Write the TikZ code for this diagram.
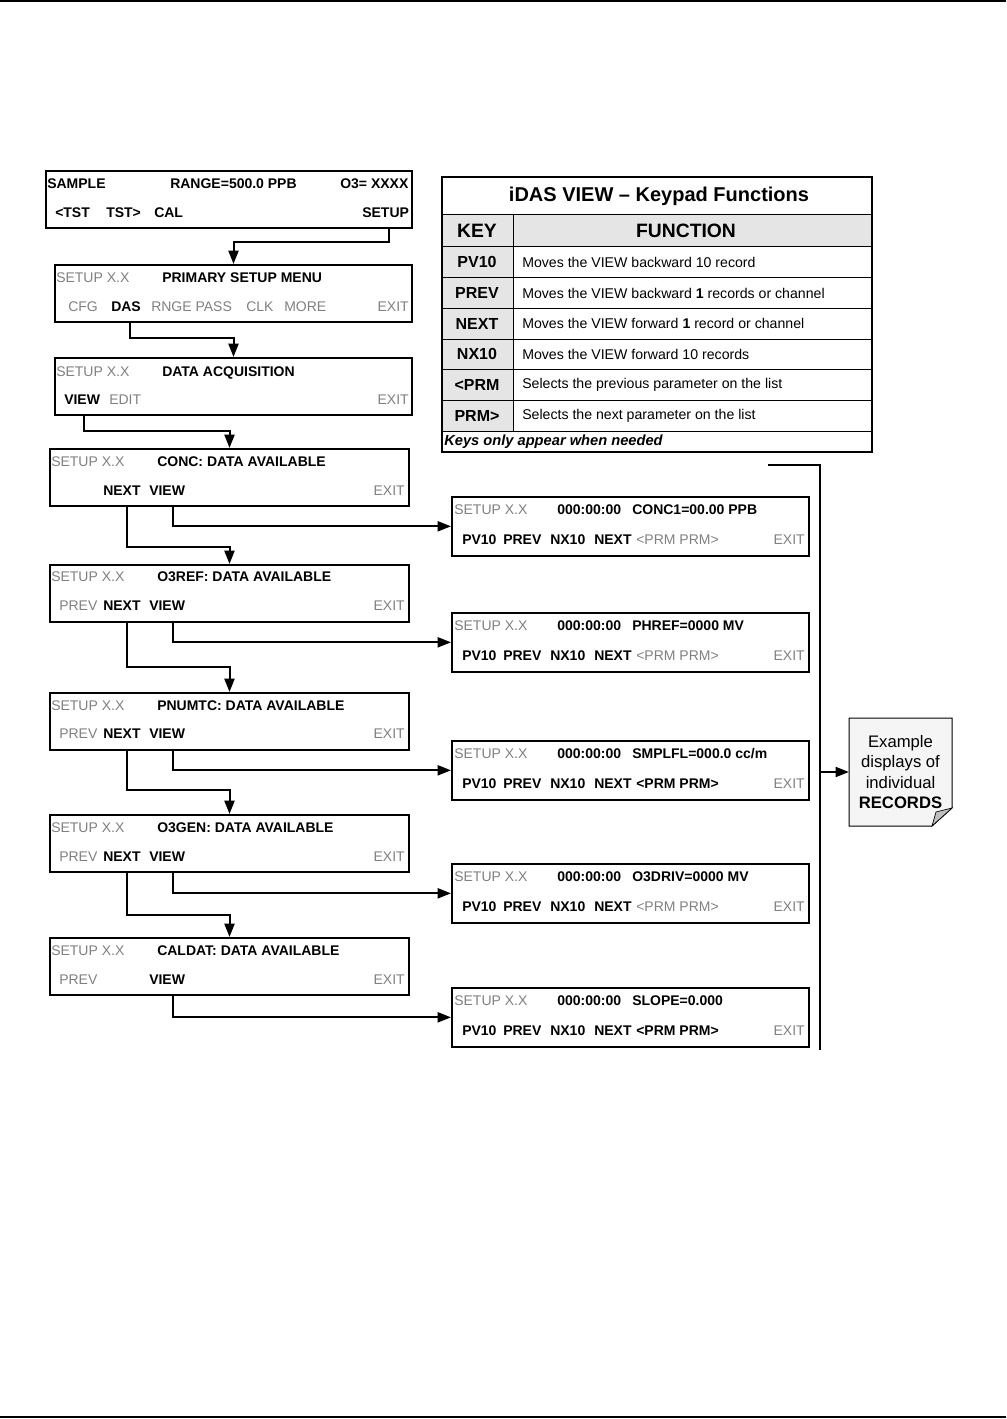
\documentclass[tikz,border=0pt]{standalone}
\usepackage{fontspec}
\setmainfont{Liberation Sans}
\usetikzlibrary{arrows.meta,calc}

\begin{document}
\begin{tikzpicture}[x=0.75pt,y=-0.75pt]
  \tikzset{
    disp/.style={draw,line width=1.5pt,anchor=north west,inner sep=0pt,minimum height=43pt},
    bk/.style={anchor=base west,inner sep=0pt,font=\bfseries\fontsize{10.5}{12}\selectfont},
    dim/.style={anchor=base west,inner sep=0pt,text=black!50,font=\fontsize{10.5}{12}\selectfont},
    conn/.style={line width=1.5pt,-{Triangle[length=10pt,width=7.5pt]}},
    link/.style={line width=1.5pt},
    cell/.style={font=\fontsize{10.6}{12}\selectfont,anchor=west,inner sep=0pt},
    head/.style={font=\bfseries\fontsize{14.5}{17}\selectfont}
  }
  \useasboundingbox (0,0) rectangle (1006,1419);
  % page rules
  \draw[line width=1.5pt] (0,1) -- (1006,1);
  \draw[line width=1.5pt] (0,1417) -- (1006,1417);

  % main display
  \node[disp,minimum width=274.5pt] (main) at (45,170) {};
  \node[bk] (main-sample) at (47,189) {SAMPLE};
  \node[bk] (main-range) at (170,189) {RANGE=500.0 PPB};
  \node[bk] (main-o3) at (340,189) {O3= XXXX};
  \node[bk] (main-tstl) at (55,218) {<TST};
  \node[bk] (main-tstr) at (106,218) {TST>};
  \node[bk] (main-cal) at (154,218) {CAL};
  \node[bk] (main-setup) at (362,218) {SETUP};

  % primary setup menu
  \node[disp,minimum width=267.75pt] (setup) at (54,264) {};
  \node[dim] (setup-id) at (56,283) {SETUP X.X};
  \node[bk] (setup-title) at (162,283) {PRIMARY SETUP MENU};
  \node[dim] (setup-cfg) at (68,311) {CFG};
  \node[bk] (setup-das) at (111,311) {DAS};
  \node[dim] (setup-rnge) at (151,311) {RNGE PASS};
  \node[dim] (setup-clk) at (246,311) {CLK};
  \node[dim] (setup-more) at (284,311) {MORE};
  \node[dim,anchor=base east] (setup-exit) at (409,311) {EXIT};

  % data acquisition
  \node[disp,minimum width=267.75pt] (das) at (54,357) {};
  \node[dim] (das-id) at (56,376) {SETUP X.X};
  \node[bk] (das-title) at (162,376) {DATA ACQUISITION};
  \node[bk] (das-view) at (64,404) {VIEW};
  \node[dim] (das-edit) at (109,404) {EDIT};
  \node[dim,anchor=base east] (das-exit) at (409,404) {EXIT};

  % channels
  \node[disp,minimum width=269.25pt] (conc) at (49,448) {};
  \node[dim] (conc-id) at (51,466) {SETUP X.X};
  \node[bk] (conc-title) at (157,466) {CONC: DATA AVAILABLE};
  \node[bk] (conc-next) at (103,495) {NEXT};
  \node[bk] (conc-view) at (149,495) {VIEW};
  \node[dim,anchor=base east] (conc-exit) at (405,495) {EXIT};

  \node[disp,minimum width=269.25pt] (o3ref) at (49,564) {};
  \node[dim] (o3ref-id) at (51,581) {SETUP X.X};
  \node[bk] (o3ref-title) at (157,581) {O3REF: DATA AVAILABLE};
  \node[dim] (o3ref-prev) at (59,610) {PREV};
  \node[bk] (o3ref-next) at (103,610) {NEXT};
  \node[bk] (o3ref-view) at (149,610) {VIEW};
  \node[dim,anchor=base east] (o3ref-exit) at (405,610) {EXIT};

  \node[disp,minimum width=269.25pt] (pnumtc) at (49,692) {};
  \node[dim] (pnumtc-id) at (51,710) {SETUP X.X};
  \node[bk] (pnumtc-title) at (157,710) {PNUMTC: DATA AVAILABLE};
  \node[dim] (pnumtc-prev) at (59,738) {PREV};
  \node[bk] (pnumtc-next) at (103,738) {NEXT};
  \node[bk] (pnumtc-view) at (149,738) {VIEW};
  \node[dim,anchor=base east] (pnumtc-exit) at (405,738) {EXIT};

  \node[disp,minimum width=269.25pt] (o3gen) at (49,814) {};
  \node[dim] (o3gen-id) at (51,832) {SETUP X.X};
  \node[bk] (o3gen-title) at (157,832) {O3GEN: DATA AVAILABLE};
  \node[dim] (o3gen-prev) at (59,861) {PREV};
  \node[bk] (o3gen-next) at (103,861) {NEXT};
  \node[bk] (o3gen-view) at (149,861) {VIEW};
  \node[dim,anchor=base east] (o3gen-exit) at (405,861) {EXIT};

  \node[disp,minimum width=269.25pt] (caldat) at (49,937) {};
  \node[dim] (caldat-id) at (51,955) {SETUP X.X};
  \node[bk] (caldat-title) at (157,955) {CALDAT: DATA AVAILABLE};
  \node[dim] (caldat-prev) at (59,984) {PREV};
  \node[bk] (caldat-view) at (149,984) {VIEW};
  \node[dim,anchor=base east] (caldat-exit) at (405,984) {EXIT};

  % record displays
  \foreach \n/\ytop/\val/\prm in {rconc/496/{CONC1=00.00 PPB}/dim, rphref/612/{PHREF=0000 MV}/dim,
      rsmplfl/740/{SMPLFL=000.0 cc/m}/bk, ro3driv/863/{O3DRIV=0000 MV}/dim, rslope/987/{SLOPE=0.000}/bk} {
    \node[disp,minimum width=267.75pt,minimum height=44pt] (\n) at (451,\ytop) {};
    \node[dim] (\n-id) at (454,{\ytop+18.5}) {SETUP X.X};
    \node[bk] (\n-time) at (557,{\ytop+18.5}) {000:00:00};
    \node[bk] (\n-val) at (632,{\ytop+18.5}) {\val};
    \node[bk] (\n-pv10) at (462,{\ytop+48}) {PV10};
    \node[bk] (\n-prev) at (503,{\ytop+48}) {PREV};
    \node[bk] (\n-nx10) at (550,{\ytop+48}) {NX10};
    \node[bk] (\n-next) at (594,{\ytop+48}) {NEXT};
    \node[\prm] (\n-prm) at (636,{\ytop+48}) {<PRM PRM>};
    \node[dim,anchor=base east] (\n-exit) at (805,{\ytop+48}) {EXIT};
  }

  % menu connectors
  \draw[conn] ($(main-setup.south |- main.south)+(3,0)$) -- ++(0,13) -| (setup.north);
  \draw[conn] ($(setup-das.south |- setup.south)+(4,0)$) -- ++(0,15) -| (das.north);
  \draw[conn] ($(das-view.south |- das.south)+(2,0)$) -- ++(0,15) -| (conc.north);
  \draw[conn] ($(conc-next.south |- conc.south)+(5,0)$) -- ++(0,40) -| (o3ref.north);
  \draw[conn] ($(o3ref-next.south |- o3ref.south)+(5,0)$) -- ++(0,44) -| (pnumtc.north);
  \draw[conn] ($(pnumtc-next.south |- pnumtc.south)+(5,0)$) -- ++(0,39) -| (o3gen.north);
  \draw[conn] ($(o3gen-next.south |- o3gen.south)+(5,0)$) -- ++(0,42) -| (caldat.north);
  \draw[conn] ($(conc-view.south |- conc.south)+(6,0)$) |- (rconc.west);
  \draw[conn] ($(o3ref-view.south |- o3ref.south)+(6,0)$) |- (rphref.west);
  \draw[conn] ($(pnumtc-view.south |- pnumtc.south)+(6,0)$) |- (rsmplfl.west);
  \draw[conn] ($(o3gen-view.south |- o3gen.south)+(6,0)$) |- (ro3driv.west);
  \draw[conn] ($(caldat-view.south |- caldat.south)+(6,0)$) |- (rslope.west);

  % keypad table
  \fill[black!10] (442,215) rectangle (872,247);
  \fill[black!10] (442,247) rectangle (513,431);
  \draw[line width=0.75pt] (442,215) -- (872,215);
  \draw[line width=0.75pt] (513,215) -- (513,431);
  \foreach \i in {0,...,6} {
    \draw[line width=0.75pt] (442,{247+30.67*\i}) -- (872,{247+30.67*\i});
  }
  \draw[line width=1.5pt] (442,177) rectangle (872,452);
  \node[font=\bfseries\fontsize{15}{18}\selectfont] (tab-title) at (659,196) {iDAS VIEW – Keypad Functions};
  \node[head] (tab-key) at (477,231) {KEY};
  \node[head] (tab-func) at (686,231) {FUNCTION};
  \foreach \k/\f [count=\i] in {PV10/Moves the VIEW backward 10 record,
      PREV/Moves the VIEW backward \textbf{1} records or channel,
      NEXT/Moves the VIEW forward \textbf{1} record or channel,
      NX10/Moves the VIEW forward 10 records,
      <PRM/Selects the previous parameter on the list,
      PRM>/Selects the next parameter on the list} {
    \node[font=\bfseries\fontsize{12}{14}\selectfont] (key-\i) at (477,{231.67+30.67*\i}) {\k};
    \node[cell] (fn-\i) at (522,{231.67+30.67*\i}) {\f};
  }
  \node[anchor=west,inner sep=0pt,font=\bfseries\itshape\fontsize{11}{13}\selectfont] (tab-foot) at (444,441.5) {Keys only appear when needed};

  % bracket and note
  \coordinate (br-start) at (768,465);
  \coordinate (br-corner) at (820,465);
  \coordinate (br-end) at (820,1050);
  \draw[link] (br-start) -- (br-corner) -- (br-end);
  \draw[line width=0.75pt,fill=black!4] (849,718) -- (952,718) -- (952,808) -- (932,826) -- (849,826) -- cycle;
  \filldraw[fill=black!25,line width=0.5pt] (952,808) -- (932,826) -- (936,812) -- cycle;
  \node[align=center,font=\fontsize{12.5}{15.2}\selectfont,minimum width=77pt,minimum height=81pt] (note) at (900.5,772) {Example\\displays of\\individual\\\textbf{RECORDS}};
  \draw[conn] (br-corner |- note.west) -- (note.west);
\end{tikzpicture}
\end{document}
